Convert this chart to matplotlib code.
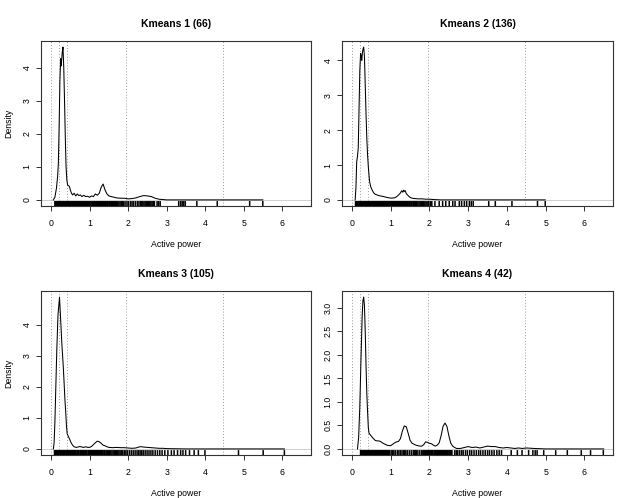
import matplotlib
matplotlib.use('Agg')
import matplotlib.pyplot as plt

plt.rcParams['font.family'] = ['Liberation Sans', 'DejaVu Sans']

# títulos de cada panel
titles = ['Kmeans 1 (66)', 'Kmeans 2 (136)', 'Kmeans 3 (105)', 'Kmeans 4 (42)']

# curvas de densidad
dens1_x = [0.06, 0.10, 0.14, 0.17, 0.19, 0.21, 0.23, 0.25, 0.26, 0.27, 0.29, 0.31, 0.33,
           0.35, 0.37, 0.39, 0.41, 0.43, 0.46, 0.48, 0.50, 0.53, 0.56, 0.60, 0.64, 0.68,
           0.72, 0.76, 0.80, 0.85, 0.90, 0.95, 1.00, 1.05, 1.10, 1.15, 1.20, 1.25, 1.30,
           1.35, 1.40, 1.45, 1.50, 1.55, 1.60, 1.70, 1.80, 1.90, 2.00, 2.10, 2.20, 2.30,
           2.40, 2.50, 2.60, 2.70, 2.80, 2.90, 3.00, 3.50, 4.00, 4.50, 5.00, 5.49]
dens1_y = [0.00, 0.08, 0.35, 0.70, 1.10, 2.20, 3.60, 4.27, 4.05, 4.15, 4.45, 4.62, 4.00,
           3.00, 1.90, 1.00, 0.60, 0.45, 0.42, 0.40, 0.30, 0.20, 0.15, 0.20, 0.12, 0.18,
           0.13, 0.15, 0.10, 0.14, 0.10, 0.11, 0.08, 0.12, 0.10, 0.18, 0.14, 0.20, 0.38,
           0.48, 0.30, 0.18, 0.12, 0.10, 0.09, 0.06, 0.05, 0.05, 0.03, 0.04, 0.06, 0.10,
           0.13, 0.12, 0.10, 0.05, 0.02, 0.01, 0.00, 0.00, 0.00, 0.00, 0.00, 0.00]

dens2_x = [0.08, 0.10, 0.12, 0.14, 0.16, 0.18, 0.20, 0.22, 0.24, 0.25, 0.27, 0.29, 0.30,
           0.32, 0.34, 0.36, 0.38, 0.40, 0.42, 0.45, 0.48, 0.52, 0.56, 0.60, 0.65, 0.70,
           0.75, 0.80, 0.90, 1.00, 1.10, 1.15, 1.20, 1.25, 1.28, 1.31, 1.33, 1.35, 1.37,
           1.40, 1.45, 1.50, 1.55, 1.60, 1.70, 1.80, 1.90, 2.00, 2.10, 2.30, 2.60, 3.00,
           3.50, 4.00, 4.50, 4.99]
dens2_y = [0.00, 0.35, 1.10, 1.25, 1.50, 2.60, 3.70, 4.20, 4.10, 4.00, 4.25, 4.35, 4.38,
           4.10, 3.30, 2.50, 1.80, 1.30, 0.95, 0.55, 0.38, 0.28, 0.20, 0.16, 0.14, 0.12,
           0.11, 0.10, 0.07, 0.05, 0.06, 0.09, 0.14, 0.20, 0.26, 0.22, 0.28, 0.24, 0.27,
           0.18, 0.12, 0.07, 0.05, 0.04, 0.03, 0.03, 0.02, 0.02, 0.01, 0.00, 0.00, 0.00,
           0.00, 0.00, 0.00, 0.00]

dens3_x = [0.06, 0.08, 0.10, 0.12, 0.15, 0.18, 0.22, 0.24, 0.26, 0.28, 0.30, 0.32, 0.34,
           0.36, 0.38, 0.40, 0.42, 0.45, 0.48, 0.52, 0.56, 0.60, 0.65, 0.70, 0.75, 0.80,
           0.85, 0.90, 0.95, 1.00, 1.05, 1.10, 1.15, 1.20, 1.25, 1.30, 1.35, 1.40, 1.45,
           1.50, 1.60, 1.70, 1.80, 1.90, 2.00, 2.10, 2.20, 2.30, 2.35, 2.40, 2.50, 2.60,
           2.70, 2.80, 2.90, 3.00, 3.50, 4.00, 4.50, 5.00, 5.50, 6.05]
dens3_y = [0.00, 0.20, 0.85, 1.80, 3.20, 4.30, 4.89, 4.40, 3.90, 3.40, 3.00, 2.60, 2.10,
           1.60, 1.20, 0.75, 0.48, 0.40, 0.32, 0.20, 0.12, 0.07, 0.05, 0.06, 0.08, 0.06,
           0.05, 0.07, 0.05, 0.05, 0.08, 0.14, 0.20, 0.25, 0.23, 0.18, 0.12, 0.10, 0.07,
           0.05, 0.04, 0.05, 0.04, 0.04, 0.03, 0.02, 0.03, 0.07, 0.07, 0.06, 0.05, 0.04,
           0.03, 0.02, 0.02, 0.01, 0.00, 0.00, 0.00, 0.00, 0.00, 0.00]

dens4_x = [0.14, 0.17, 0.20, 0.23, 0.26, 0.28, 0.30, 0.32, 0.34, 0.36, 0.38, 0.40, 0.42,
           0.44, 0.47, 0.50, 0.55, 0.60, 0.65, 0.70, 0.75, 0.80, 0.85, 0.90, 0.95, 1.00,
           1.05, 1.10, 1.15, 1.20, 1.25, 1.30, 1.35, 1.40, 1.45, 1.50, 1.55, 1.60, 1.65,
           1.70, 1.75, 1.80, 1.85, 1.90, 1.95, 2.00, 2.05, 2.10, 2.15, 2.20, 2.25, 2.30,
           2.35, 2.40, 2.45, 2.50, 2.55, 2.60, 2.65, 2.70, 2.80, 2.90, 3.00, 3.10, 3.20,
           3.30, 3.40, 3.50, 3.60, 3.70, 3.80, 3.90, 4.00, 4.10, 4.20, 4.30, 4.40, 4.50,
           4.70, 5.00, 5.50, 6.00, 6.50]
dens4_y = [0.00, 0.25, 0.90, 1.90, 2.80, 3.15, 3.23, 3.05, 2.50, 1.80, 1.20, 0.80, 0.45,
           0.33, 0.30, 0.27, 0.22, 0.18, 0.17, 0.17, 0.15, 0.12, 0.10, 0.08, 0.07, 0.07,
           0.10, 0.13, 0.15, 0.16, 0.22, 0.38, 0.49, 0.47, 0.33, 0.18, 0.12, 0.10, 0.08,
           0.07, 0.06, 0.06, 0.09, 0.15, 0.14, 0.12, 0.11, 0.08, 0.06, 0.08, 0.13, 0.28,
           0.48, 0.55, 0.48, 0.28, 0.12, 0.06, 0.03, 0.01, 0.01, 0.03, 0.05, 0.03, 0.04,
           0.02, 0.04, 0.06, 0.05, 0.05, 0.03, 0.02, 0.03, 0.02, 0.01, 0.02, 0.01, 0.02,
           0.01, 0.00, 0.00, 0.00, 0.00]

# observaciones (rug) de cada grupo
rug1 = [0.10, 0.12, 0.14, 0.16, 0.18, 0.20, 0.22, 0.24, 0.26, 0.28, 0.30, 0.32, 0.34,
        0.36, 0.38, 0.40, 0.42, 0.44, 0.46, 0.48, 0.50, 0.52, 0.54, 0.56, 0.58, 0.60,
        0.62, 0.64, 0.66, 0.68, 0.70, 0.72, 0.74, 0.77, 0.79, 0.81, 0.83, 0.85, 0.87,
        0.89, 0.92, 0.94, 0.96, 0.98, 1.00, 1.02, 1.04, 1.07, 1.09, 1.11, 1.13, 1.15,
        1.17, 1.19, 1.21, 1.23, 1.25, 1.27, 1.29, 1.31, 1.33, 1.35, 1.37, 1.39, 1.41,
        1.43, 1.45, 1.47, 1.50, 1.52, 1.55, 1.57, 1.60, 1.62, 1.65, 1.67, 1.70, 1.73,
        1.76, 1.79, 1.82, 1.85, 1.88, 1.92, 1.97, 2.01, 2.06, 2.10, 2.14, 2.19, 2.24,
        2.28, 2.32, 2.35, 2.38, 2.41, 2.44, 2.47, 2.50, 2.53, 2.56, 2.59, 2.62, 2.65,
        2.68, 2.75, 2.79, 2.83, 3.31, 3.36, 3.40, 3.44, 3.48, 3.78, 4.31, 5.15, 5.49]
rug2 = [0.09, 0.11, 0.13, 0.15, 0.17, 0.19, 0.21, 0.23, 0.25, 0.27, 0.29, 0.31, 0.33,
        0.35, 0.37, 0.39, 0.41, 0.43, 0.45, 0.47, 0.49, 0.51, 0.53, 0.55, 0.57, 0.59,
        0.61, 0.63, 0.65, 0.67, 0.69, 0.71, 0.73, 0.75, 0.77, 0.79, 0.81, 0.83, 0.85,
        0.87, 0.89, 0.91, 0.93, 0.95, 0.97, 0.99, 1.01, 1.03, 1.05, 1.07, 1.09, 1.11,
        1.13, 1.15, 1.17, 1.19, 1.21, 1.23, 1.25, 1.27, 1.29, 1.31, 1.33, 1.35, 1.37,
        1.39, 1.41, 1.43, 1.45, 1.48, 1.50, 1.53, 1.55, 1.58, 1.61, 1.64, 1.67, 1.70,
        1.73, 1.76, 1.79, 1.82, 1.85, 1.88, 1.91, 1.94, 1.98, 2.02, 2.06, 2.14, 2.25,
        2.34, 2.42, 2.51, 2.60, 2.66, 2.77, 2.83, 2.90, 2.96, 3.03, 3.08, 3.13, 3.53,
        3.70, 4.13, 4.79, 4.99]
rug3 = [0.09, 0.11, 0.13, 0.15, 0.17, 0.19, 0.21, 0.23, 0.25, 0.27, 0.29, 0.31, 0.33,
        0.35, 0.37, 0.39, 0.41, 0.43, 0.45, 0.47, 0.49, 0.51, 0.53, 0.55, 0.57, 0.59,
        0.61, 0.63, 0.65, 0.68, 0.70, 0.72, 0.75, 0.77, 0.79, 0.82, 0.84, 0.86, 0.89,
        0.91, 0.93, 0.96, 0.98, 1.00, 1.03, 1.05, 1.07, 1.09, 1.11, 1.13, 1.15, 1.17,
        1.19, 1.21, 1.23, 1.25, 1.27, 1.29, 1.31, 1.33, 1.35, 1.38, 1.40, 1.43, 1.46,
        1.49, 1.52, 1.55, 1.58, 1.61, 1.64, 1.67, 1.70, 1.73, 1.76, 1.79, 1.82, 1.86,
        1.90, 1.94, 1.98, 2.03, 2.08, 2.13, 2.18, 2.23, 2.27, 2.31, 2.35, 2.39, 2.44,
        2.49, 2.54, 2.59, 2.64, 2.70, 2.76, 2.82, 2.88, 2.95, 3.03, 3.12, 3.19, 3.28,
        3.36, 3.42, 3.49, 3.59, 3.71, 3.82, 3.99, 4.86, 5.50, 6.05]
rug4 = [0.22, 0.24, 0.26, 0.28, 0.30, 0.32, 0.34, 0.36, 0.38, 0.40, 0.42, 0.44, 0.46,
        0.48, 0.50, 0.52, 0.54, 0.56, 0.58, 0.60, 0.62, 0.64, 0.66, 0.68, 0.70, 0.72,
        0.74, 0.76, 0.78, 0.80, 0.82, 0.84, 0.86, 0.88, 0.90, 0.92, 0.94, 0.97, 1.01,
        1.05, 1.08, 1.12, 1.17, 1.21, 1.25, 1.29, 1.33, 1.36, 1.39, 1.43, 1.48, 1.53,
        1.58, 1.60, 1.62, 1.64, 1.66, 1.70, 1.75, 1.80, 1.83, 1.85, 1.87, 1.89, 1.91,
        1.93, 1.95, 1.97, 1.99, 2.01, 2.03, 2.05, 2.07, 2.09, 2.12, 2.14, 2.16, 2.18,
        2.20, 2.22, 2.24, 2.26, 2.28, 2.30, 2.32, 2.34, 2.36, 2.38, 2.40, 2.42, 2.44,
        2.46, 2.48, 2.50, 2.52, 2.54, 2.56, 2.58, 2.65, 2.69, 2.73, 2.78, 2.83, 2.87,
        2.93, 2.98, 3.04, 3.09, 3.15, 3.21, 3.27, 3.32, 3.38, 3.44, 3.50, 3.55, 3.61,
        3.67, 3.74, 3.80, 3.86, 4.11, 4.27, 4.39, 4.56, 4.67, 4.73, 4.78, 4.95, 5.26,
        5.56, 5.92, 6.16, 6.49]

# líneas verticales de referencia
cortes = [0.01, 0.21, 0.41, 1.95, 4.47]
xticks = [0, 1, 2, 3, 4, 5, 6]

dens_x = [dens1_x, dens2_x, dens3_x, dens4_x]
dens_y = [dens1_y, dens2_y, dens3_y, dens4_y]
rugs = [rug1, rug2, rug3, rug4]

fig = plt.figure(figsize=(6.23, 4.98), dpi=100)
pos = [(41, 41, 270, 165), (342, 41, 271, 165), (41, 291, 270, 164), (342, 291, 271, 164)]

for i in range(4):
    l, t, w, h = pos[i]
    ax = fig.add_axes([l / 623, 1 - (t + h) / 498, w / 623, h / 498])
    ymax = max(dens_y[i])
    ax.axhline(0, color='#c8c8c8', lw=0.6, zorder=1)
    for c in cortes:
        ax.axvline(c, color='#999999', lw=0.7, ls=(0, (1, 2)), zorder=1)
    ax.plot(dens_x[i], dens_y[i], color='black', lw=0.75, zorder=3)
    ax.vlines(rugs[i], 0, 0.03, transform=ax.get_xaxis_transform(),
              color='black', lw=1.1, zorder=2, snap=False)
    ax.set_xlim(-0.26, 6.74)
    ax.set_ylim(-0.04 * ymax, 1.04 * ymax)
    ax.set_xticks(xticks)
    if i == 3:
        ax.set_yticks([0, 0.5, 1, 1.5, 2, 2.5, 3])
        ax.set_yticklabels(['0.0', '0.5', '1.0', '1.5', '2.0', '2.5', '3.0'])
    else:
        ax.set_yticks(range(int(ymax) + 1))
    ax.tick_params(labelsize=6.3, length=3.8, width=0.7, color='#333333')
    ax.tick_params(axis='x', pad=5.5)
    ax.tick_params(axis='y', pad=3, labelrotation=90)
    for lab in ax.get_yticklabels():
        lab.set_va('center')
    for s in ax.spines.values():
        s.set_linewidth(0.8)
        s.set_color('#333333')
    ax.set_title(titles[i], fontsize=7.5, fontweight='bold', pad=10)
    ax.set_xlabel('Active power', fontsize=6.3, labelpad=9)
    if i % 2 == 0:
        ax.set_ylabel('Density', fontsize=6.3, labelpad=7)

fig.savefig('out.png', dpi=100)
